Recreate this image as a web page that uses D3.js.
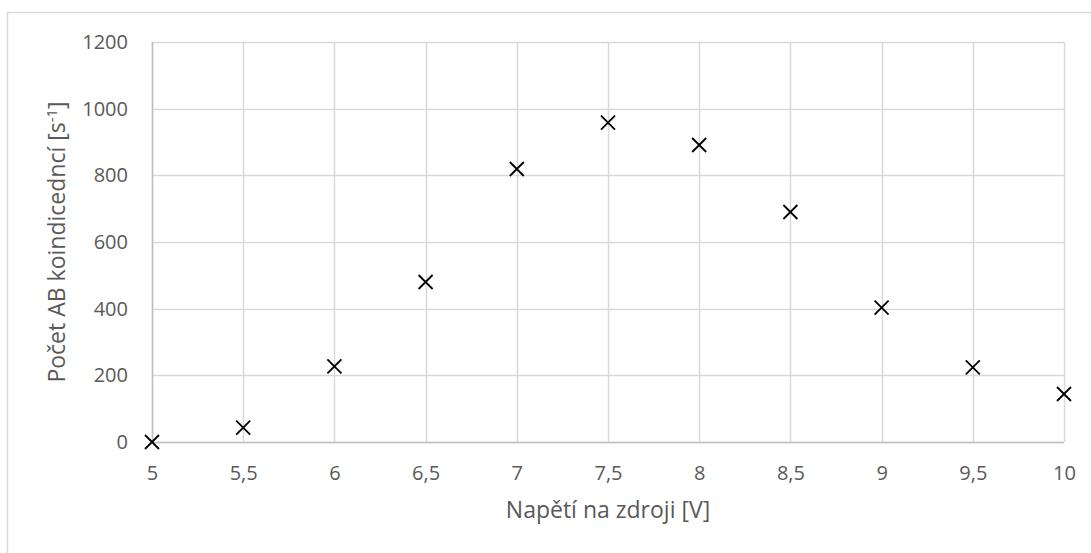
<!DOCTYPE html>
<html><head><meta charset="utf-8">
<script src="https://cdn.jsdelivr.net/npm/d3@7"></script>
<style>body{margin:0;background:#fff}text{font-family:"Open Sans",sans-serif}</style>
</head><body>
<svg id="c" width="1091" height="553"></svg>
<script>
const voltages = [5, 5.5, 6, 6.5, 7, 7.5, 8, 8.5, 9, 9.5, 10];
const counts = [0, 43, 227, 480, 819, 958, 891, 690, 403, 224, 144];
const xTicks = [5, 5.5, 6, 6.5, 7, 7.5, 8, 8.5, 9, 9.5, 10];
const yTicks = [0, 200, 400, 600, 800, 1000, 1200];

const svg = d3.select("#c");
const L = 152, R = 1064, T = 42, B = 442;
const x = d3.scaleLinear().domain([5, 10]).range([L, R]);
const y = d3.scaleLinear().domain([0, 1200]).range([B, T]);
const txt = "#595959", grid = "#d9d9d9";
const tickFs = "20px", titleFs = "23px";

svg.append("rect").attr("x", 7.5).attr("y", 12.5).attr("width", 1100).attr("height", 600)
  .attr("fill", "none").attr("stroke", "#d9d9d9").attr("stroke-width", 1.5);

// gridlines
svg.append("g").selectAll("line").data(yTicks).join("line")
  .attr("x1", L).attr("x2", R).attr("y1", d => Math.round(y(d)) + 0.5).attr("y2", d => Math.round(y(d)) + 0.5)
  .attr("stroke", grid).attr("stroke-width", 1.5);
svg.append("g").selectAll("line").data(xTicks).join("line")
  .attr("y1", T).attr("y2", B).attr("x1", d => Math.round(x(d)) + 0.5).attr("x2", d => Math.round(x(d)) + 0.5)
  .attr("stroke", grid).attr("stroke-width", 1.5);
// axis lines
svg.append("line").attr("x1", L).attr("x2", R).attr("y1", B + 0.5).attr("y2", B + 0.5).attr("stroke", "#bfbfbf").attr("stroke-width", 1.5);
svg.append("line").attr("x1", L + 0.5).attr("x2", L + 0.5).attr("y1", T).attr("y2", B).attr("stroke", "#bfbfbf").attr("stroke-width", 1.5);

// tick labels via axes
const fmt = d => String(d).replace(".", ",");
const ya = svg.append("g").attr("transform", `translate(${L},0)`)
  .call(d3.axisLeft(y).tickValues(yTicks).tickSize(0).tickPadding(24).tickFormat(d => d));
ya.select(".domain").remove();
ya.selectAll("text").attr("fill", txt).style("font-size", tickFs).style("font-family", "Open Sans");
const xa = svg.append("g").attr("transform", `translate(0,${B})`)
  .call(d3.axisBottom(x).tickValues(xTicks).tickSize(0).tickPadding(24).tickFormat(fmt));
xa.select(".domain").remove();
xa.selectAll("text").attr("fill", txt).style("font-size", tickFs).style("font-family", "Open Sans");

// titles
svg.append("text").attr("x", (L + R) / 2).attr("y", 518).attr("text-anchor", "middle")
  .attr("fill", txt).style("font-size", titleFs).text("Napětí na zdroji [V]");
const yt = svg.append("text").attr("transform", `translate(65,${(T + B) / 2}) rotate(-90)`)
  .attr("text-anchor", "middle").attr("fill", txt).style("font-size", titleFs);
yt.append("tspan").text("Počet AB koindicedncí [s");
yt.append("tspan").attr("dy", -8).style("font-size", "15px").text("-1");
yt.append("tspan").attr("dy", 8).text("]");

// markers
const s = 7;
const pts = svg.append("g").selectAll("g").data(voltages.map((v, i) => [v, counts[i]])).join("g")
  .attr("transform", d => `translate(${x(d[0])},${y(d[1])})`);
pts.append("path").attr("d", `M${-s},${-s}L${s},${s}M${-s},${s}L${s},${-s}`)
  .attr("stroke", "#000").attr("stroke-width", 1.8).attr("fill", "none");
</script>
</body></html>
